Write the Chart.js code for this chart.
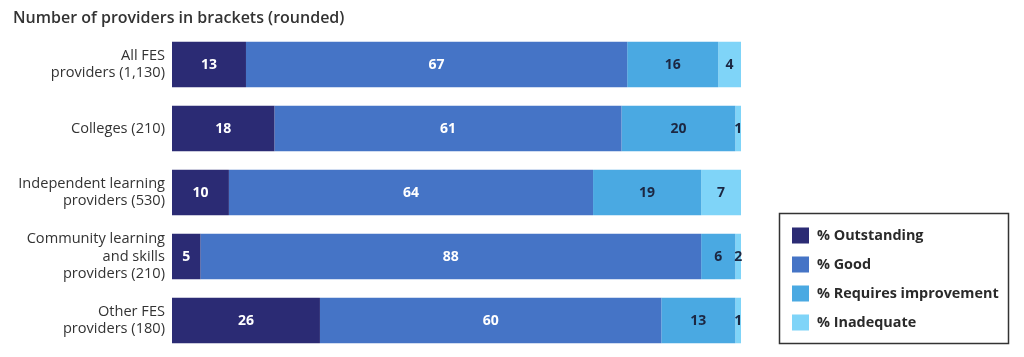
<!DOCTYPE html>
<html>
<head>
<meta charset="utf-8">
<script src="https://cdn.jsdelivr.net/npm/chart.js@4"></script>
<style>
html,body{margin:0;padding:0;background:#fff;}
#wrap{width:1024px;height:357px;position:relative;}
</style>
</head>
<body>
<div id="wrap"><canvas id="c" width="1024" height="357"></canvas></div>
<script>
const categories = [
  ["All FES", "providers (1,130)"],
  ["Colleges (210)"],
  ["Independent learning", "providers (530)"],
  ["Community learning", "and skills", "providers (210)"],
  ["Other FES", "providers (180)"]
];
const seriesNames = ["% Outstanding", "% Good", "% Requires improvement", "% Inadequate"];
const outstanding = [13, 18, 10, 5, 26];
const good = [67, 61, 64, 88, 60];
const requiresImprovement = [16, 20, 19, 6, 13];
const inadequate = [4, 1, 7, 2, 1];
const titleText = "Number of providers in brackets (rounded)";

const colors = ["#2b2b74", "#4574c6", "#4aa9e2", "#7fd4f8"];
const labelColors = ["#ffffff", "#ffffff", "#1c2742", "#1c2742"];
const FONT = "'Open Sans', 'Noto Sans', sans-serif";

const titlePlugin = {
  id: 'manualTitle',
  afterDraw(chart) {
    const ctx = chart.ctx;
    ctx.save();
    ctx.font = "600 16px " + FONT;
    ctx.fillStyle = '#333';
    ctx.textAlign = 'left';
    ctx.textBaseline = 'middle';
    ctx.fillText(titleText, 13, 18);
    ctx.restore();
  }
};

const valuePlugin = {
  id: 'valueLabels',
  afterDatasetsDraw(chart) {
    const ctx = chart.ctx;
    ctx.save();
    ctx.font = "700 14px " + FONT;
    ctx.textAlign = 'center';
    ctx.textBaseline = 'middle';
    chart.data.datasets.forEach((ds, i) => {
      const meta = chart.getDatasetMeta(i);
      meta.data.forEach((bar, j) => {
        const left = Math.min(bar.base, bar.x);
        const right = Math.min(Math.max(bar.base, bar.x), chart.chartArea.right);
        ctx.fillStyle = labelColors[i];
        ctx.fillText(String(ds.data[j]), (left + right) / 2, bar.y + 1);
      });
    });
    ctx.restore();
  }
};

const legendPlugin = {
  id: 'boxLegend',
  afterDraw(chart) {
    const ctx = chart.ctx;
    ctx.save();
    const x = 779.5, y = 213.5, w = 229, h = 130;
    ctx.strokeStyle = '#333';
    ctx.lineWidth = 1.5;
    ctx.strokeRect(x, y, w, h);
    ctx.font = "700 14.4px " + FONT;
    ctx.textBaseline = 'middle';
    ctx.textAlign = 'left';
    chart.data.datasets.forEach((ds, i) => {
      const cy = y + 22 + i * 29;
      ctx.fillStyle = ds.backgroundColor;
      ctx.fillRect(792, cy - 8, 17, 16);
      ctx.fillStyle = '#2a2a2a';
      ctx.fillText(ds.label, 817, cy);
    });
    ctx.restore();
  }
};

const datasets = [outstanding, good, requiresImprovement, inadequate].map((d, i) => ({
  label: seriesNames[i],
  data: d,
  backgroundColor: colors[i],
  borderWidth: 0,
  barPercentage: 0.71,
  categoryPercentage: 1.0
}));

new Chart(document.getElementById('c'), {
  type: 'bar',
  data: { labels: categories, datasets },
  plugins: [valuePlugin, legendPlugin, titlePlugin],
  options: {
    indexAxis: 'y',
    responsive: false,
    animation: false,
    layout: { padding: { left: 0, right: 283, top: 32.5, bottom: 4.5 } },
    plugins: {
      legend: { display: false },
      tooltip: { enabled: false },
      title: { display: false }
    },
    scales: {
      x: {
        stacked: true,
        min: 0,
        max: 100,
        display: false
      },
      y: {
        stacked: true,
        grid: { display: false, drawTicks: false },
        border: { display: false },
        ticks: {
          color: '#333',
          font: { family: FONT, size: 14.6, lineHeight: 1.18 },
          padding: 7,
          crossAlign: 'near'
        },
        afterFit(scale) {
          scale.width = 172;
          scale.paddingTop = 0;
          scale.paddingBottom = 0;
        }
      }
    }
  }
});
</script>
</body>
</html>
